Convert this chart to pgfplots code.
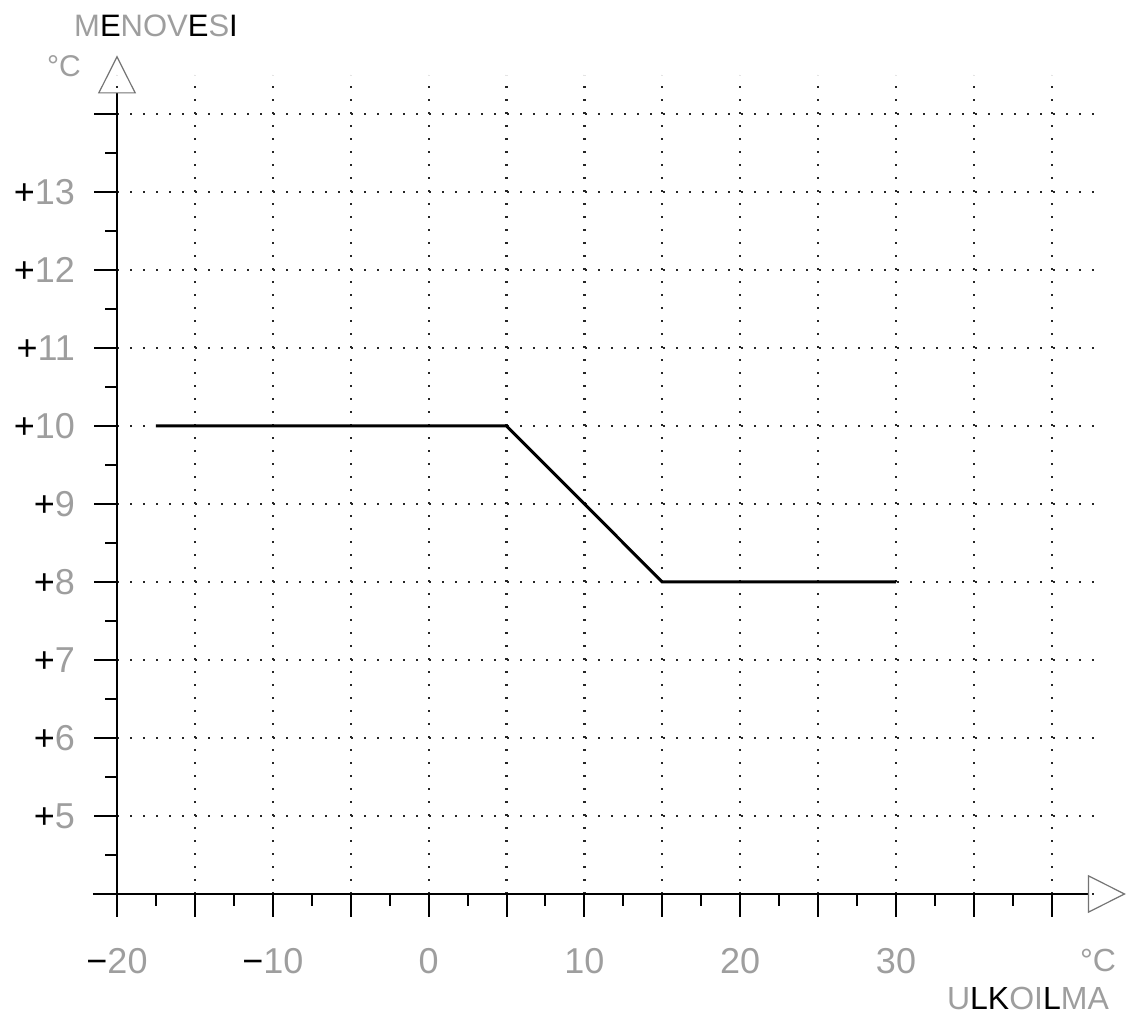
\documentclass[border=0pt]{standalone}
\usepackage{pgfplots}
\pgfplotsset{compat=1.18}
\usetikzlibrary{arrows.meta}
\usepackage{fontspec}
\setmainfont{Liberation Sans}
\definecolor{lg}{gray}{0.62}
\newcommand\g[1]{\textcolor{lg}{#1}}
\newcommand\bk[1]{\textcolor{black}{#1}}
\begin{document}
\begin{tikzpicture}
\path[use as bounding box] (0,0) rectangle (565pt,508pt);
\begin{axis}[
  at={(58.5pt,61pt)}, anchor=south west,
  x=7.79pt, y=39pt,
  xmin=-20, xmax=42.7, ymin=4, ymax=14.5,
  axis lines=left, axis line style={draw=none},
  clip=false,
  xtick={-20,-15,...,40}, minor xtick={-17.5,-12.5,...,37.5},
  ytick={4,...,14}, minor ytick={4.5,5.5,...,13.5},
  tick align=outside,
  major tick length=11.5pt, minor tick length=6pt,
  tick style={black, line width=1pt},
  grid=major,
  major grid style={line width=1.1pt, black!85, dash pattern=on 1.1pt off 5.4pt},
  xticklabels={{\bk{−}\g{20}},,{\bk{−}\g{10}},,{\g{0}},,{\g{10}},,{\g{20}},,{\g{30}},,},
  yticklabels={,{\bk{+}\g{5}},{\bk{+}\g{6}},{\bk{+}\g{7}},{\bk{+}\g{8}},{\bk{+}\g{9}},{\bk{+}\g{10}},{\bk{+}\g{11}},{\bk{+}\g{12}},{\bk{+}\g{13}},},
  xticklabel style={anchor=north, yshift=-12pt},
  yticklabel style={anchor=east, xshift=-6pt},
  tick label style={font=\fontsize{18}{20}\selectfont},
]
\addplot[black, line width=1.5pt] coordinates {(-17.5,10) (5,10) (15,8) (30,8)};
\draw[line width=1.1pt, -{Triangle[open, length=19pt, width=19pt, line width=0.6pt, color=black!55]}] (axis cs:-21.55,4) -- (axis cs:44.75,4);
\draw[line width=1.1pt, -{Triangle[open, length=19pt, width=19pt, line width=0.6pt, color=black!55]}] (axis cs:-20,4) -- (axis cs:-20,14.75);
\end{axis}
\begin{scope}[x=0.5pt, y=-0.5pt, shift={(0,508pt)}]
\node[font=\fontsize{15.5}{17}\selectfont] at (156,26) {\g{M}\bk{E}\g{NOV}\bk{E}\g{S}\bk{I}};
\node[font=\fontsize{15}{17}\selectfont] at (64,66) {\g{°C}};
\node[font=\fontsize{16}{18}\selectfont] at (1098,960) {\g{°C}};
\node[font=\fontsize{16}{18}\selectfont] at (1028,998) {\g{U}\bk{LK}\g{OI}\bk{L}\g{MA}};
\end{scope}
\end{tikzpicture}
\end{document}
